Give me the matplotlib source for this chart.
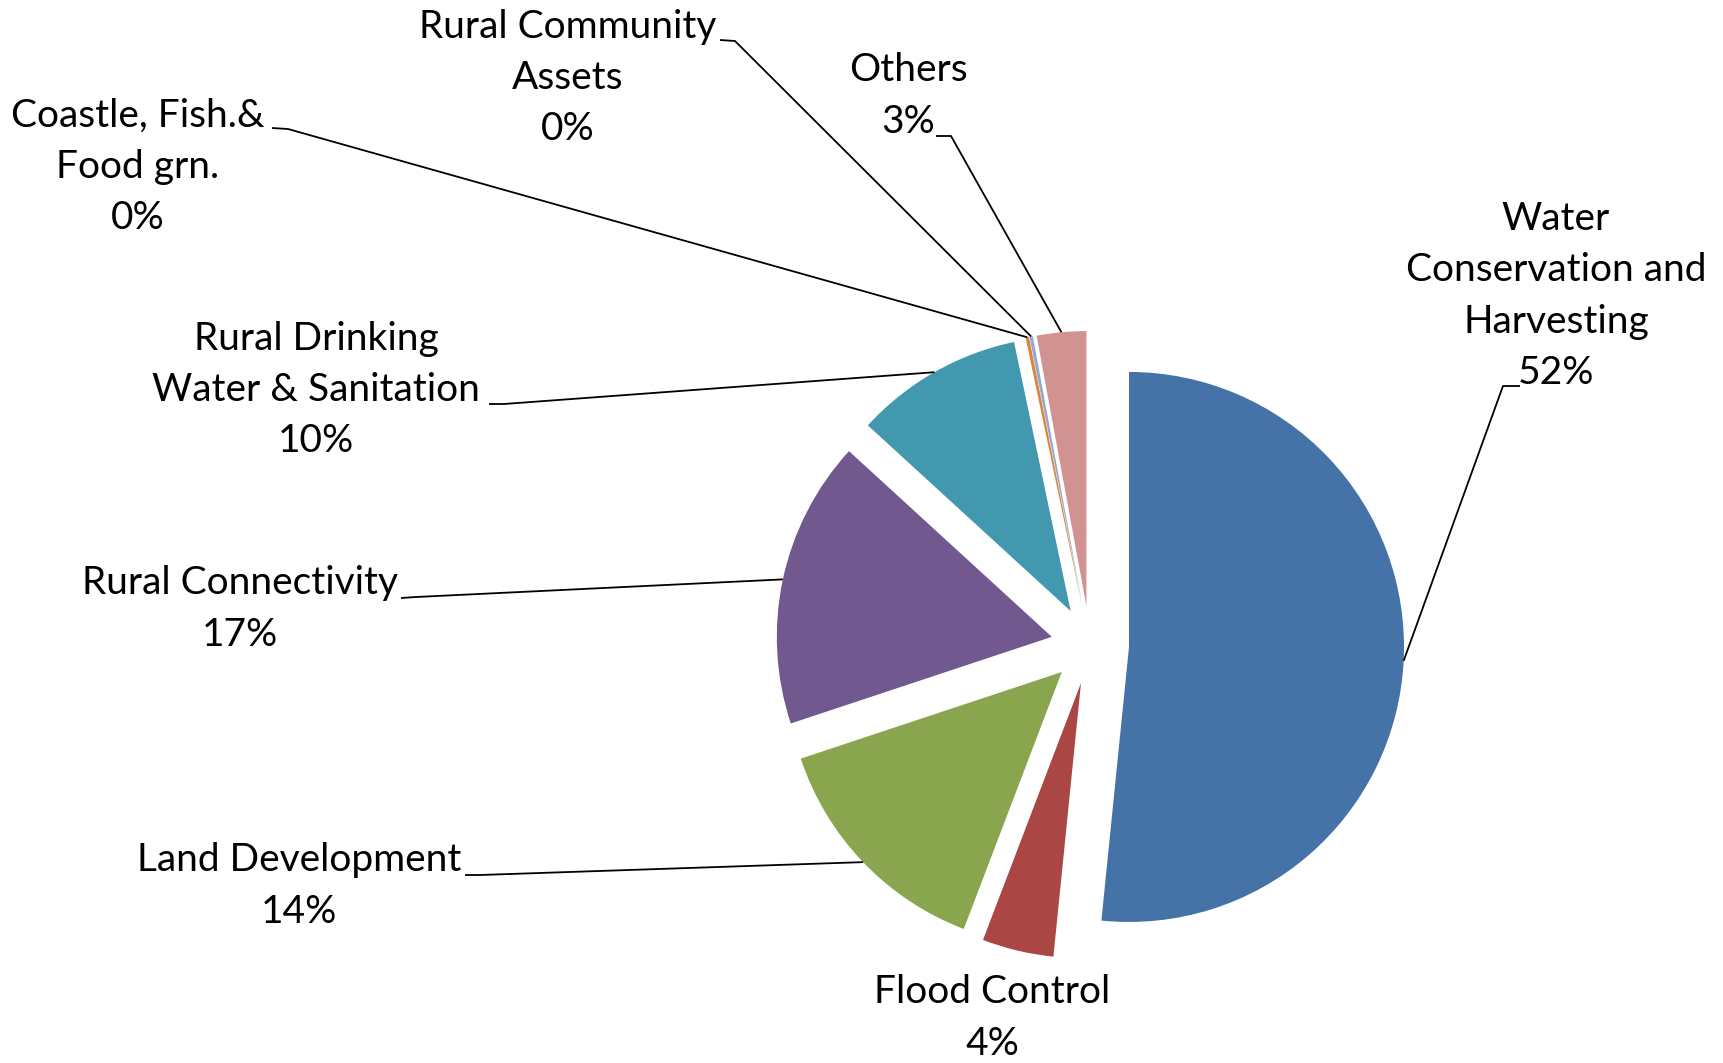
import numpy as np
import matplotlib
matplotlib.use("Agg")
import matplotlib.pyplot as plt

# slice data (percent of total), clockwise from 12 o'clock
categories = ["Water\nConservation and\nHarvesting", "Flood Control", "Land Development",
              "Rural Connectivity", "Rural Drinking\nWater & Sanitation",
              "Coastle, Fish.&\nFood grn.", "Rural Community\nAssets", "Others"]
shares = [51.6, 4.2, 14.1, 16.9, 9.9, 0.2, 0.2, 2.9]
colors = ["#4572A7", "#AA4643", "#89A54E", "#71588F", "#4198AF",
          "#DB843D", "#93A9CF", "#D19392"]

# label layout in pixel coordinates (y grows downward)
label_pos = [(1556, 296), (992, 1018), (299, 886), (240, 609),
             (316, 390), (138, 167), (568, 78), (908, 96)]
# leader line start (at the text) and end of the short horizontal tick
leader_pts = [((1520, 386), (1503, 386)), None, ((465, 875), (480, 875)),
              ((401, 598), (416, 597)), ((489, 404), (504, 404)),
              ((272, 128), (288, 129)), ((720, 40), (735, 41)),
              ((936, 136), (951, 136))]

W, H = 1723, 1063
R = 275
fig = plt.figure(figsize=(W / 100, H / 100), dpi=100)
ax = fig.add_axes([0, 0, 1, 1])

# explode is in data units here (radius is in pixels)
wedges, _ = ax.pie(shares, colors=colors, center=(1090, 645), radius=R,
                   startangle=-90, counterclock=True,
                   explode=[0.142 * R] * len(shares),
                   wedgeprops=dict(linewidth=0))
ax.set_xlim(0, W)
ax.set_ylim(H, 0)
ax.set_aspect("equal")
ax.axis("off")

for i, (w, name, v) in enumerate(zip(wedges, categories, shares)):
    text = f"{name}\n{round(v)}%"
    x, y = label_pos[i]
    ax.text(x, y, text, ha="center", va="center", fontsize=28,
            family="Lato", linespacing=1.53, color="black")
    if leader_pts[i] is None:
        continue
    mid = np.deg2rad((w.theta1 + w.theta2) / 2)
    cx, cy = w.center
    end = (cx + w.r * np.cos(mid), cy + w.r * np.sin(mid))
    p0, p1 = leader_pts[i]
    ax.plot([p0[0], p1[0], end[0]], [p0[1], p1[1], end[1]],
            color="black", lw=1.3, solid_capstyle="butt")

fig.savefig("out.png", dpi=100, facecolor="white")
